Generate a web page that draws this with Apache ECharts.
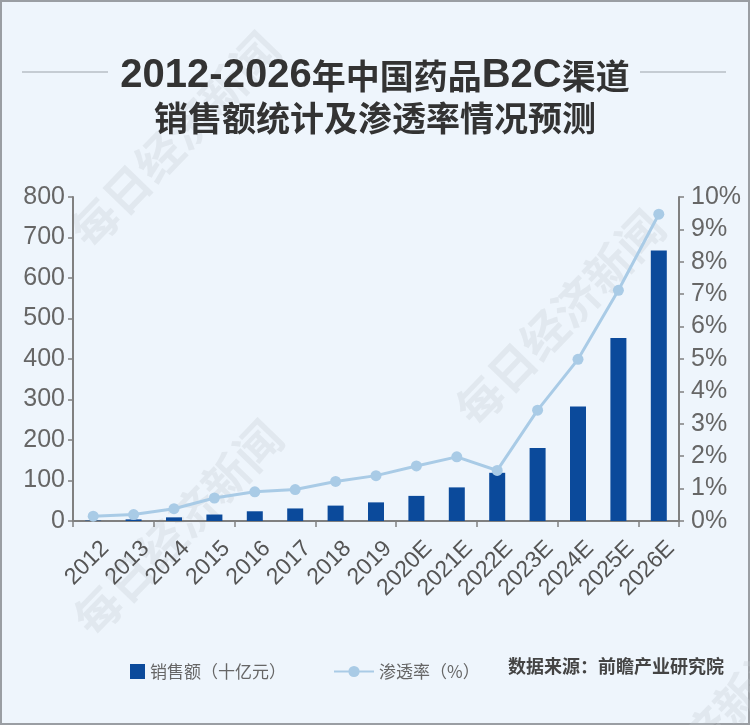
<!DOCTYPE html>
<html>
<head>
<meta charset="utf-8">
<script src="https://cdn.jsdelivr.net/npm/echarts@6/dist/echarts.min.js"></script>
<style>
html,body{margin:0;padding:0;background:#eef5fc;}
#c{width:750px;height:725px;}
</style>
</head>
<body>
<div id="c"></div>
<script>
const categories = ['2012','2013','2014','2015','2016','2017','2018','2019','2020E','2021E','2022E','2023E','2024E','2025E','2026E'];
const salesValues = [1, 4, 9, 16, 24, 31, 38, 46, 62, 83, 119, 180, 283, 452, 668];
const penetrationValues = [0.15, 0.2, 0.38, 0.71, 0.9, 0.97, 1.22, 1.4, 1.7, 1.98, 1.56, 3.42, 4.99, 7.12, 9.47];
const leftTicks = {min: 0, max: 800, interval: 100};
const rightTicks = {min: 0, max: 10, interval: 1};

const chart = echarts.init(document.getElementById('c'), null, {renderer: 'canvas'});
const FONT = '"Liberation Sans", "Noto Sans CJK SC", sans-serif';
const CJK = '"Noto Sans CJK SC", sans-serif';

const wm = (x, y, size) => ({
  type: 'text', x: x, y: y, rotation: Math.PI * 46 / 180, z: 0, silent: true,
  style: {text: '每日经济新闻', fill: 'rgba(196,202,209,0.3)', font: 'bold ' + size + 'px ' + CJK, align: 'center', verticalAlign: 'middle'}
});

chart.setOption({
  backgroundColor: '#eef5fc',
  animation: false,
  title: {
    left: 'center', top: 50,
    text: '{l|2012-2026}{c|年中国药品}{l|B2C}{c|渠道}\n{c|销售额统计及渗透率情况预测}',
    textStyle: {
      rich: {
        l: {fontFamily: FONT, fontSize: 40, fontWeight: 'bold', color: '#333', lineHeight: 42},
        c: {fontFamily: CJK, fontSize: 34, fontWeight: 'bold', color: '#333', lineHeight: 42}
      }
    }
  },
  graphic: [
    {type: 'rect', shape: {x: 0, y: 0, width: 750, height: 725}, z: -1, silent: true,
     style: {fill: 'none', stroke: '#9a9ea3', lineWidth: 4}},
    {type: 'line', shape: {x1: 22, y1: 72, x2: 108, y2: 72}, style: {stroke: '#b7bec6', lineWidth: 1.5}},
    {type: 'line', shape: {x1: 640, y1: 72, x2: 726, y2: 72}, style: {stroke: '#b7bec6', lineWidth: 1.5}},
    wm(175, 140, 46), wm(560, 318, 46), wm(178, 528, 46), wm(690, 748, 46),
    {type: 'text', x: 508, y: 666, style: {text: '数据来源：前瞻产业研究院', fill: '#444', font: 'bold 18px ' + CJK, verticalAlign: 'middle'}}
  ],
  legend: [
    {left: 125, top: 658, itemWidth: 15, itemHeight: 15,
     textStyle: {fontFamily: CJK, fontSize: 17, color: '#666'},
     data: [{name: '销售额（十亿元）', icon: 'rect', itemStyle: {color: '#0b4a9b'}}]},
    {left: 328, top: 658, itemWidth: 40, itemHeight: 14,
     textStyle: {fontFamily: CJK, fontSize: 17, color: '#666'},
     data: [{name: '渗透率（%）'}]}
  ],
  grid: [
    {left: 73, right: 71, top: 197, bottom: 204, containLabel: false},
    {left: 85, right: 59, top: 197, bottom: 204, containLabel: false}
  ],
  xAxis: [
    {type: 'category', data: categories, boundaryGap: true, gridIndex: 0,
     axisLine: {lineStyle: {color: '#808080', width: 2}},
     axisTick: {show: true, length: 6, lineStyle: {color: '#808080', width: 1.5}},
     axisLabel: {show: false}},
    {type: 'category', data: categories, boundaryGap: true, gridIndex: 1,
     axisLine: {show: false}, axisTick: {show: false},
     axisLabel: {rotate: 45, fontSize: 23, color: '#555', fontFamily: FONT, margin: 24, interval: 0}}
  ],
  yAxis: [
    {type: 'value', min: leftTicks.min, max: leftTicks.max, interval: leftTicks.interval, gridIndex: 0,
     splitLine: {show: false},
     axisLine: {show: true, lineStyle: {color: '#808080', width: 2}},
     axisTick: {show: true, length: 5, lineStyle: {color: '#808080', width: 1.5}},
     axisLabel: {fontSize: 25, color: '#666', fontFamily: FONT, margin: 8}},
    {type: 'value', min: rightTicks.min, max: rightTicks.max, interval: rightTicks.interval, position: 'right', gridIndex: 0,
     splitLine: {show: false},
     axisLine: {show: true, lineStyle: {color: '#808080', width: 2}},
     axisTick: {show: true, length: 5, lineStyle: {color: '#808080', width: 1.5}},
     axisLabel: {fontSize: 25, color: '#666', fontFamily: FONT, margin: 12, formatter: '{value}%'}},
    {type: 'value', gridIndex: 1, show: false, min: 0, max: 1}
  ],
  series: [
    {name: '销售额（十亿元）', type: 'bar', data: salesValues, barWidth: 16, xAxisIndex: 0, yAxisIndex: 0,
     itemStyle: {color: '#0b4a9b'}},
    {name: '渗透率（%）', type: 'line', xAxisIndex: 0, yAxisIndex: 1, data: penetrationValues,
     symbol: 'circle', symbolSize: 11,
     lineStyle: {color: '#a9cbe6', width: 3},
     itemStyle: {color: '#a9cbe6'}}
  ]
});
</script>
</body>
</html>
